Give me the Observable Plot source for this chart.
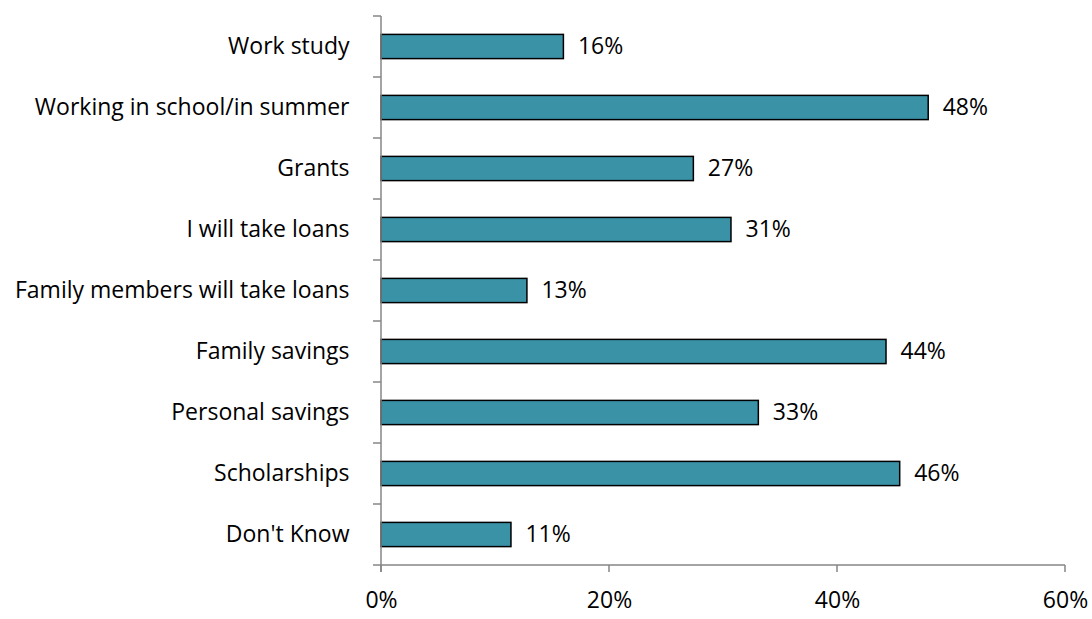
<!DOCTYPE html>
<html><head><meta charset="utf-8">
<script src="https://cdn.jsdelivr.net/npm/d3@7"></script>
<script src="https://cdn.jsdelivr.net/npm/@observablehq/plot@0.6"></script>
<style>body{margin:0;background:#fff;} svg{display:block}</style>
</head><body><div id="chart"></div>
<script>
const categories = ["Work study","Working in school/in summer","Grants","I will take loans","Family members will take loans","Family savings","Personal savings","Scholarships","Don't Know"];
const values = [16, 48, 27.4, 30.7, 12.8, 44.3, 33.1, 45.5, 11.4];
const labels = ["16%","48%","27%","31%","13%","44%","33%","46%","11%"];
const xTicks = [0, 20, 40, 60];

const data = categories.map((c, i) => ({cat: c, v: values[i], label: labels[i]}));
const FONT = "'Open Sans', sans-serif";
const AXIS = "#868686";

function axesLines(index, scales, values, dims) {
  const g = d3.create("svg:g");
  const x0 = scales.x(0), x1 = scales.x(60);
  const bw = scales.y.bandwidth ? scales.y.bandwidth() : 0;
  const yTop = scales.y(categories[0]);
  const yBottom = scales.y(categories[categories.length - 1]) + bw;
  g.append("line").attr("x1", x0).attr("x2", x0).attr("y1", yTop).attr("y2", yBottom + 7)
    .attr("stroke", AXIS).attr("stroke-width", 1.5);
  g.append("line").attr("x1", x0 - 8).attr("x2", x1).attr("y1", yBottom).attr("y2", yBottom)
    .attr("stroke", AXIS).attr("stroke-width", 1.5);
  categories.forEach(c => {
    const yy = scales.y(c);
    g.append("line").attr("x1", x0 - 8).attr("x2", x0).attr("y1", yy).attr("y2", yy)
      .attr("stroke", AXIS).attr("stroke-width", 1.5);
  });
  xTicks.forEach(t => {
    g.append("line").attr("x1", scales.x(t)).attr("x2", scales.x(t)).attr("y1", yBottom).attr("y2", yBottom + 7)
      .attr("stroke", AXIS).attr("stroke-width", 1.5);
  });
  return g.node();
}

const chart = Plot.plot({
  width: 1092,
  height: 619,
  marginLeft: 381,
  marginRight: 27,
  marginTop: 14,
  marginBottom: 52,
  style: {fontFamily: FONT, fontSize: "23px", color: "#000", background: "#fff"},
  x: {domain: [0, 60], ticks: xTicks},
  y: {domain: categories, padding: 0, label: null},
  marks: [
    Plot.barX(data, {y: "cat", x: "v", fill: "#3a92a7", stroke: "#000", strokeWidth: 1.5, insetTop: 18.4, insetBottom: 18.4}),
    Plot.text(data, {y: "cat", x: "v", text: "label", textAnchor: "start", dx: 14, fontSize: 23, fill: "#000"}),
    Plot.axisY({tickSize: 0, tickPadding: 32, label: null, fontSize: 23, fill: "#000"}),
    Plot.axisX({ticks: xTicks, tickFormat: d => d + "%", tickSize: 0, tickPadding: 24, label: null, fontSize: 23, fill: "#000"}),
    axesLines
  ]
});
document.getElementById("chart").append(chart);
</script>
</body></html>
